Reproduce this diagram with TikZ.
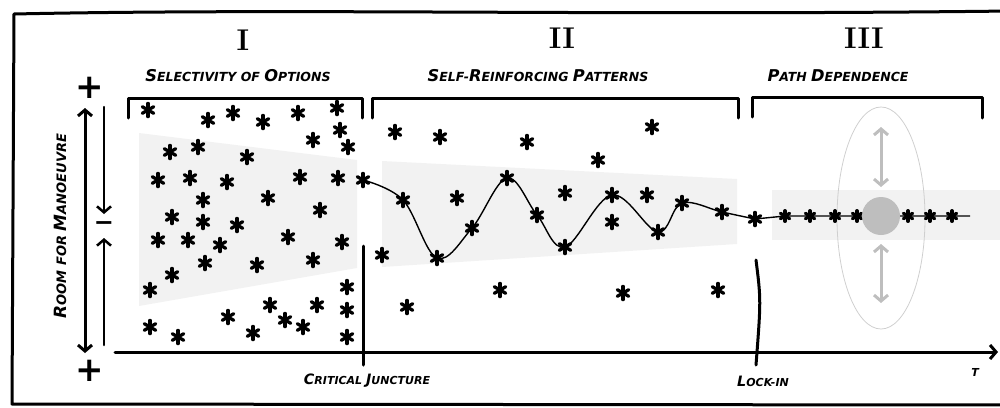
\documentclass[tikz,border=0pt]{standalone}
\usepackage{fontspec}
\newfontfamily\hand{DejaVu Sans}
\usetikzlibrary{arrows.meta,shapes.geometric}

\definecolor{band}{HTML}{F2F2F2}
\definecolor{hubgray}{HTML}{BEBEBE}
\definecolor{rimgray}{HTML}{CFCFCF}
\newcommand\hcap[1]{\scalebox{1.3}{#1}}

\tikzset{
  opt/.style={circle,inner sep=0pt,minimum size={2*#1+4.4pt},
    path picture={\foreach \a in {90,30,-30}
      \draw[line width=3.3pt,line cap=round]
        ([shift={(\a:#1)}]path picture bounding box.center) --
        ([shift={(\a+180:#1)}]path picture bounding box.center);}},
  opt/.default=6.6pt,
  brace/.style={line width=3pt,line cap=round,line join=round},
  axis/.style={line width=3pt,line cap=round},
  barbs/.style={arrows={#1},>={Straight Barb[length=6pt,width=14pt]}},
  head/.style={font=\hand\bfseries\itshape\fontsize{12.5}{14}\selectfont,inner sep=1pt},
  numeral/.style={font=\bfseries\fontsize{30}{30}\selectfont},
  sign/.style={font=\hand\bfseries\fontsize{34}{34}\selectfont,inner sep=0pt}
}

\begin{document}
\begin{tikzpicture}[x=1pt,y=-1pt]
\useasboundingbox (0,0) rectangle (1000,407);
\clip (0,0) rectangle (1000,407);

% shaded bands
\fill[band] (139,133) -- (357,160) -- (357,268) -- (139,306) -- cycle;
\fill[band] (382,161) -- (737,179) -- (737,244) -- (382,267) -- cycle;
\fill[band] (772,190) rectangle (1000,240);

% frame
\draw[line width=3pt,line join=round] (1010,11) .. controls (600,16) and (300,8) .. (14,14)
  -- (12,404) -- (1010,405);

% phases
\node[numeral] (n1) at (243,40) {I};
\node[numeral] (n2) at (562,38) {II};
\node[numeral] (n3) at (864,38) {III};
\node[head] (h1) at (238,76) {\hcap{S}ELECTIVITY OF \hcap{O}PTIONS};
\node[head] (h2) at (538,76) {\hcap{S}ELF-\hcap{R}EINFORCING \hcap{P}ATTERNS};
\node[head] (h3) at (838,76) {\hcap{P}ATH \hcap{D}EPENDENCE};
\draw[brace] (128,118) -- (128,98) -- (362,98) -- (362,118);
\draw[brace] (372,118) -- (372,98) -- (738,98) -- (738,118);
\draw[brace] (752,117) -- (752,97) -- (982,97) -- (982,118);

% room for manoeuvre
\node[sign] (plus1) at (90,88) {+};
\node[sign] (plus2) at (90,371) {+};
\node[sign,font=\hand\bfseries\fontsize{24}{24}\selectfont] (minus) at (104,226) {−};
\coordinate (r1) at (85,108);
\coordinate (r2) at (85,353);
\coordinate (m1) at (104,107);
\coordinate (m2) at (104,214);
\coordinate (m3) at (104,345);
\coordinate (m4) at (104,238);
\draw[axis,barbs={<->}] (r1) -- (r2);
\draw[axis,line width=2.5pt,barbs={->}] (m1) -- (m2);
\draw[axis,line width=2.5pt,barbs={->}] (m3) -- (m4);
\node[head,rotate=90,font=\hand\bfseries\itshape\fontsize{13}{15}\selectfont] (room) at (60,226)
  {\hcap{R}OOM FOR \hcap{M}ANOEUVRE};

% time axis
\coordinate (t0) at (115,352);
\coordinate (t1) at (998,352);
\draw[axis,barbs={->}] (t0) -- (t1);
\node[head,font=\hand\bfseries\itshape\fontsize{11}{12}\selectfont] (tlab) at (975,372) {T};
\coordinate (cj1) at (363,246);
\coordinate (cj2) at (363,365);
\coordinate (li1) at (756,260);
\coordinate (li2) at (756,365);
\draw[axis] (cj1) -- (cj2);
\draw[axis] (li1) .. controls (761,300) .. (li2);
\node[head,font=\hand\bfseries\itshape\fontsize{11}{13}\selectfont] (cj) at (367,381)
  {\hcap{C}RITICAL \hcap{J}UNCTURE};
\node[head,font=\hand\bfseries\itshape\fontsize{11}{13}\selectfont] (li) at (763,381)
  {\hcap{L}OCK-IN};

% basin of path dependence
\node[ellipse,draw=rimgray,line width=0.8pt,minimum width=88pt,minimum height=222pt] (basin) at (881,218) {};
\coordinate (u1) at (881,127);
\coordinate (u2) at (881,187);
\coordinate (d1) at (881,244);
\coordinate (d2) at (881,303);
\draw[axis,hubgray,barbs={<->}] (u1) -- (u2);
\draw[axis,hubgray,barbs={<->}] (d1) -- (d2);
\coordinate (lineend) at (970,216);

% options, phase I
\begin{scope}[every node/.style={opt}]
\node (a1) at (148,110) {}; \node (a2) at (208,120) {}; \node (a3) at (233,113) {};
\node (a4) at (263,122) {}; \node (a5) at (298,113) {}; \node (a6) at (337,108) {};
\node (a7) at (340,130) {}; \node (a8) at (313,140) {}; \node (a9) at (348,147) {};
\node (a10) at (170,152) {}; \node (a11) at (198,147) {}; \node (a12) at (247,157) {};
\node (a13) at (158,180) {}; \node (a14) at (190,178) {}; \node (a15) at (227,182) {};
\node (a16) at (300,177) {}; \node (a17) at (338,178) {}; \node (a18) at (203,200) {};
\node (a19) at (268,198) {}; \node (a20) at (320,210) {}; \node (a21) at (172,217) {};
\node (a22) at (203,222) {}; \node (a23) at (237,225) {}; \node (a24) at (158,240) {};
\node (a25) at (188,240) {}; \node (a26) at (220,245) {}; \node (a27) at (288,237) {};
\node (a28) at (342,242) {}; \node (a29) at (205,263) {}; \node (a30) at (257,265) {};
\node (a31) at (313,260) {}; \node (a32) at (172,275) {}; \node (a33) at (150,290) {};
\node (a34) at (347,287) {}; \node (a35) at (270,305) {}; \node (a36) at (317,305) {};
\node (a37) at (347,310) {}; \node (a38) at (228,317) {}; \node (a39) at (285,320) {};
\node (a40) at (303,327) {}; \node (a41) at (150,327) {}; \node (a42) at (178,337) {};
\node (a43) at (253,333) {}; \node (a44) at (347,337) {};
\end{scope}

% options, phase II
\begin{scope}[every node/.style={opt}]
\node (b1) at (395,132) {}; \node (b2) at (440,137) {}; \node (b3) at (527,142) {};
\node (b4) at (652,127) {}; \node (b5) at (598,160) {}; \node (b6) at (457,198) {};
\node (b7) at (565,193) {}; \node (b8) at (647,195) {}; \node (b9) at (612,222) {};
\node (b10) at (382,255) {}; \node (b11) at (500,290) {}; \node (b12) at (623,293) {};
\node (b13) at (718,290) {}; \node (b14) at (407,307) {};
\end{scope}

% the path taken
\begin{scope}[every node/.style={opt}]
\node (p1) at (363,180) {};
\node (p2) at (403,200) {};
\node (p3) at (437,258) {};
\node (p4) at (472,228) {};
\node (p5) at (507,178) {};
\node (p6) at (537,215) {};
\node (p7) at (565,247) {};
\node (p8) at (612,195) {};
\node (p9) at (658,232) {};
\node (p10) at (682,203) {};
\node (p11) at (722,212) {};
\node (p12) at (755,219) {};
\end{scope}
\draw[line width=1.4pt] plot[smooth,tension=0.6] coordinates {(p1.center) (p2.center) (p3.center)
  (p4.center) (p5.center) (p6.center) (p7.center) (p8.center) (p9.center) (p10.center)
  (p11.center) (p12.center)};
\draw[line width=1.4pt] (p12.center) -- (785,216) -- (lineend);

% options, phase III
\begin{scope}[every node/.style={opt=5.3pt}]
\node (c1) at (785,216) {}; \node (c2) at (810,216) {}; \node (c3) at (835,216) {};
\node (c4) at (857,216) {}; \node (c5) at (908,216) {}; \node (c6) at (930,216) {};
\node (c7) at (952,216) {};
\end{scope}
\node[circle,fill=hubgray,minimum size=38pt,inner sep=0pt] (hub) at (881,216) {};
\end{tikzpicture}
\end{document}
